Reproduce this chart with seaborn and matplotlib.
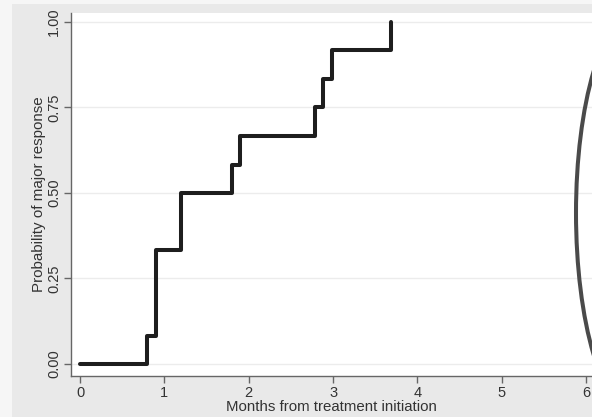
import matplotlib
matplotlib.use("Agg")
import matplotlib.pyplot as plt
import seaborn as sns
import pandas as pd
from matplotlib.patches import Ellipse, Rectangle

# Kaplan-Meier style step data (months, cumulative probability)
months = [0.0, 0.79, 0.90, 1.20, 1.80, 1.90, 2.78, 2.88, 2.99, 3.69]
prob = [0.0, 0.083, 0.333, 0.500, 0.583, 0.667, 0.750, 0.833, 0.917, 1.000]
x_ticks = [0, 1, 2, 3, 4, 5, 6]
y_ticks = [0.00, 0.25, 0.50, 0.75, 1.00]
y_tick_labels = ["0.00", "0.25", "0.50", "0.75", "1.00"]

df = pd.DataFrame({"Months": months, "Prob": prob})

sns.set_theme(style="white")
plt.rcParams["font.family"] = ["Liberation Sans", "DejaVu Sans"]

fig = plt.figure(figsize=(5.92, 4.17), dpi=100)
fig.patch.set_facecolor("#e9e9e9")
# lighter outer strip on left/top
fig.patches.append(Rectangle((0, 0), 12 / 592, 1, transform=fig.transFigure,
                             facecolor="#f6f6f6", edgecolor="none", zorder=0))
fig.patches.append(Rectangle((0, 1 - 4 / 417), 1, 4 / 417, transform=fig.transFigure,
                             facecolor="#f6f6f6", edgecolor="none", zorder=0))

ax = fig.add_axes([71 / 592, 41 / 417, 1 - 71 / 592, (376 - 13) / 417])
ax.set_facecolor("white")

sns.lineplot(data=df, x="Months", y="Prob", drawstyle="steps-post",
             color="#1e1e1e", linewidth=2.9, ax=ax, zorder=3)

ax.set_xlim(-0.107, 6.07)
ax.set_ylim(-0.035, 1.026)
ax.set_xticks(x_ticks)
ax.set_xticklabels([str(t) for t in x_ticks])
ax.set_yticks(y_ticks)
ax.set_yticklabels(y_tick_labels, rotation=90, va="center")

for y in y_ticks:
    ax.axhline(y, color="#ececec", linewidth=1.0, zorder=1)

for s in ["top", "right"]:
    ax.spines[s].set_visible(False)
for s in ["left", "bottom"]:
    ax.spines[s].set_color("#666666")
    ax.spines[s].set_linewidth(1.0)

ax.tick_params(axis="both", which="major", direction="out", length=5, width=1,
               color="#666666", labelsize=10.5, labelcolor="#333333", pad=2,
               bottom=True, left=True)

ax.set_xlabel("Months from treatment initiation", fontsize=10.8, color="#333333", labelpad=0)
ax.set_ylabel("Probability of major response", fontsize=10.9, color="#333333", labelpad=1)

# annotation arc at right edge
fig.patches.append(Ellipse((636 / 592, (417 - 213) / 417), 120 / 592, 400 / 417,
                           transform=fig.transFigure, fill=False,
                           edgecolor="#4a4a4a", linewidth=2.9, zorder=5))

fig.savefig("out.png", dpi=100, facecolor=fig.get_facecolor())
